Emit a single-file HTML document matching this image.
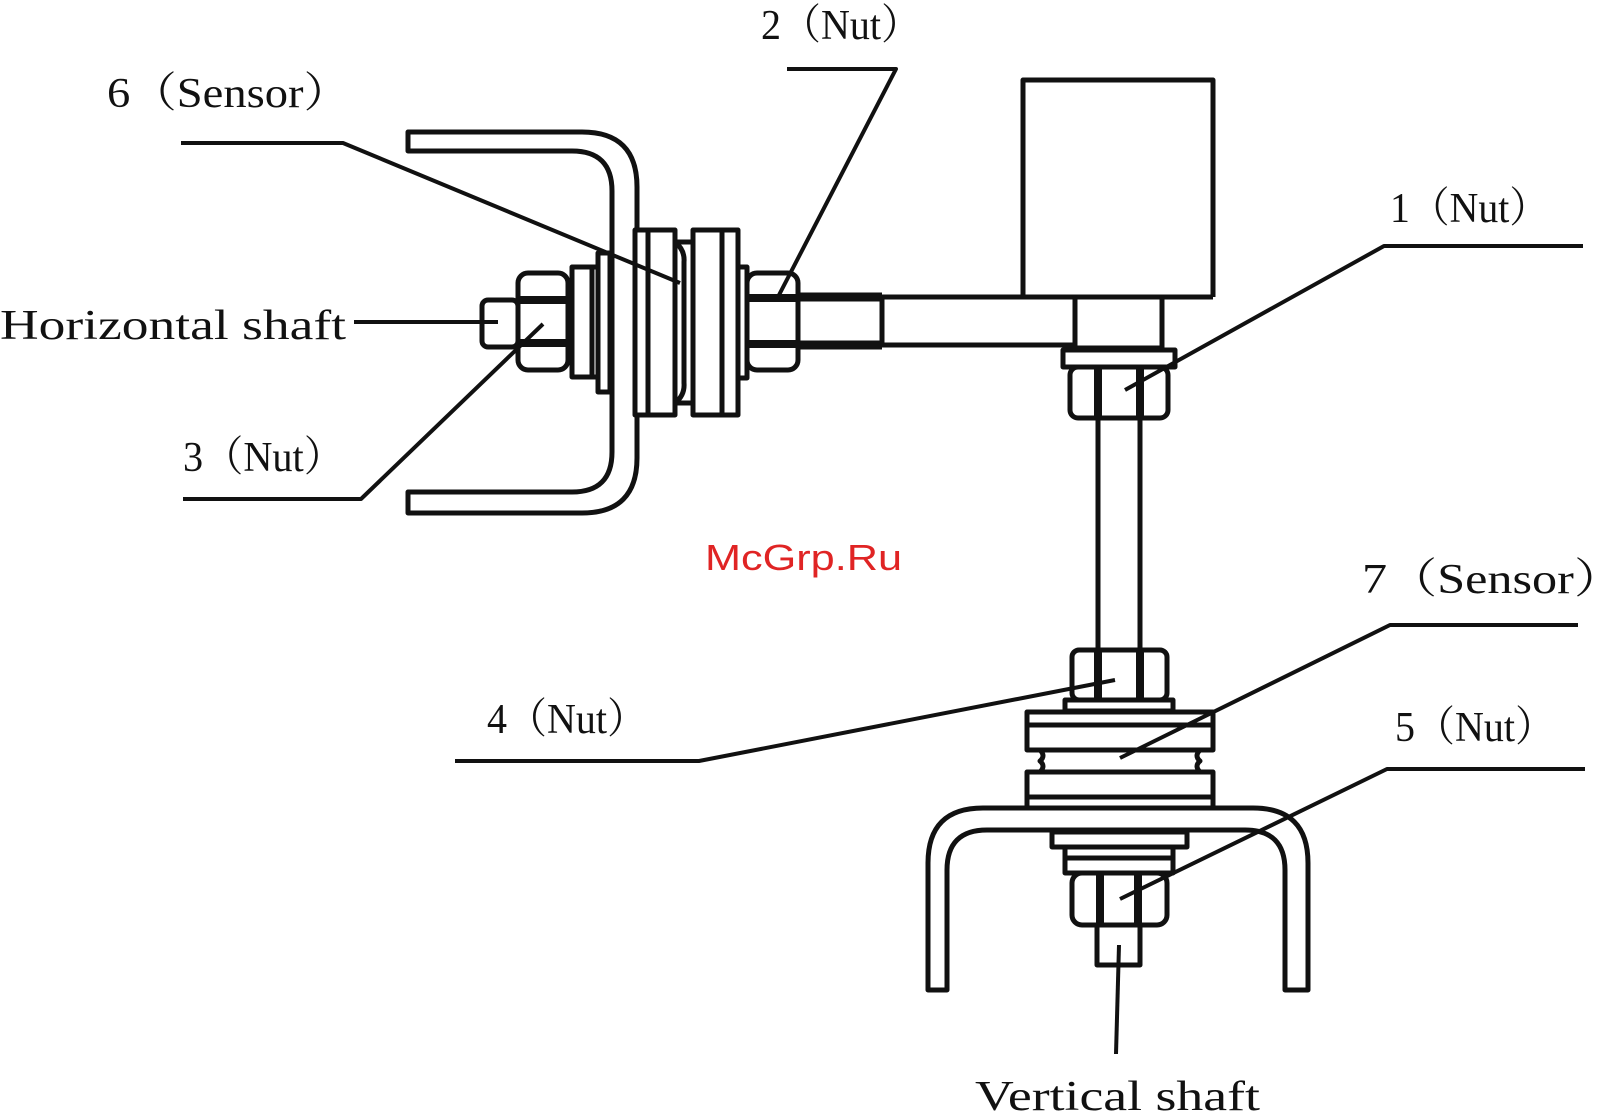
<!DOCTYPE html>
<html><head><meta charset="utf-8"><style>
html,body{margin:0;padding:0;background:#fff;overflow:hidden;}
svg{display:block;}
text{font-family:"Liberation Serif","Noto Serif CJK SC",serif;font-size:42px;fill:#111;}
</style></head><body>
<svg width="1597" height="1113" viewBox="0 0 1597 1113" xmlns="http://www.w3.org/2000/svg">
<g fill="none" stroke="#111" stroke-width="5" stroke-linejoin="round">
<path d="M408,132 L582,132 Q637,132 637,187 L637,458 Q637,513 582,513 L408,513 L408,492 L572,492 Q612,492 612,452 L612,191 Q612,151 572,151 L408,151 Z"/>
<rect x="598" y="253" width="12" height="139" fill="#fff"/>
<rect x="572" y="267" width="26" height="110" fill="#fff"/>
<line x1="592" y1="267" x2="592" y2="377"/>
<rect x="635" y="230" width="40" height="185" fill="#fff"/>
<line x1="648" y1="230" x2="648" y2="415"/>
<path d="M675,242 L693,242 M675,403 L693,403"/>
<path d="M675,242 Q685,250 684,262 L684,383 Q685,395 675,403" />
<rect x="693" y="230" width="45" height="185" fill="#fff"/>
<line x1="722" y1="230" x2="722" y2="415"/>
<rect x="738" y="267" width="9" height="111" fill="#fff"/>
<rect x="482" y="300" width="36" height="47" rx="6" fill="#fff"/>
<rect x="518" y="273" width="50" height="97" rx="10" fill="#fff"/>
<line x1="518" y1="300" x2="568" y2="300" stroke-width="8"/>
<line x1="518" y1="343" x2="568" y2="343" stroke-width="8"/>
<rect x="747" y="273" width="51" height="97" rx="10" fill="#fff"/>
<line x1="747" y1="298" x2="798" y2="298" stroke-width="8"/>
<line x1="747" y1="344" x2="798" y2="344" stroke-width="8"/>
<path d="M798,297 L882,297 M798,345 L882,345" stroke-width="9"/>
<line x1="882" y1="297" x2="882" y2="345"/>
<path d="M882,297 L1213,297 M882,345 L1075,345"/>
<path d="M1023,297 L1023,80 L1213,80 L1213,297"/>
<rect x="1075" y="297" width="87" height="51"/>
<rect x="1063" y="350" width="112" height="17"/>
<rect x="1070" y="367" width="98" height="51" rx="8"/>
<line x1="1098" y1="367" x2="1098" y2="418" stroke-width="8"/>
<line x1="1140" y1="367" x2="1140" y2="418" stroke-width="8"/>
<line x1="1098" y1="418" x2="1098" y2="650"/>
<line x1="1140" y1="418" x2="1140" y2="650"/>
<rect x="1072" y="650" width="95" height="50" rx="7"/>
<line x1="1098" y1="650" x2="1098" y2="700" stroke-width="8"/>
<line x1="1140" y1="650" x2="1140" y2="700" stroke-width="8"/>
<rect x="1065" y="700" width="108" height="11"/>
<rect x="1027" y="712" width="186" height="38"/>
<line x1="1027" y1="725" x2="1213" y2="725"/>
<path d="M1040,750 Q1046,756 1040,761 Q1046,766 1040,772 M1200,750 Q1194,756 1200,761 Q1194,766 1200,772"/>
<rect x="1027" y="772" width="186" height="36"/>
<line x1="1027" y1="797" x2="1213" y2="797"/>
<path d="M928,990 L928,863 Q928,808 983,808 L1253,808 Q1308,808 1308,863 L1308,990 L1285,990 L1285,870 Q1285,830 1245,830 L987,830 Q947,830 947,870 L947,990 Z" fill="#fff"/>
<rect x="1052" y="832" width="135" height="15" fill="#fff"/>
<rect x="1065" y="847" width="108" height="26" fill="#fff"/>
<line x1="1065" y1="858" x2="1173" y2="858"/>
<rect x="1072" y="873" width="95" height="52" rx="10" fill="#fff"/>
<line x1="1100" y1="873" x2="1100" y2="925" stroke-width="8"/>
<line x1="1138" y1="873" x2="1138" y2="925" stroke-width="8"/>
<rect x="1097" y="925" width="43" height="40" fill="#fff"/>
<g stroke-width="4">
<polyline points="181,143 343,143 680,283"/>
<polyline points="787,69 896,69 779,295"/>
<polyline points="354,322 498,322"/>
<polyline points="183,499 361,499 543,324"/>
<polyline points="1583,246 1384,246 1125,390"/>
<polyline points="1578,625 1390,625 1120,758"/>
<polyline points="455,761 699,761 1115,680"/>
<polyline points="1585,769 1387,769 1120,899"/>
<polyline points="1119,945 1116,1054"/>
</g>
</g>
<text x="107" y="107" textLength="243" lengthAdjust="spacingAndGlyphs">6（Sensor）</text>
<text x="761" y="39" textLength="160" lengthAdjust="spacingAndGlyphs">2（Nut）</text>
<text x="0" y="339" textLength="346" lengthAdjust="spacingAndGlyphs">Horizontal shaft</text>
<text x="183" y="471" textLength="161" lengthAdjust="spacingAndGlyphs">3（Nut）</text>
<text x="1390" y="222" textLength="159" lengthAdjust="spacingAndGlyphs">1（Nut）</text>
<text x="1362" y="593" textLength="262" lengthAdjust="spacingAndGlyphs">7（Sensor）</text>
<text x="487" y="733" textLength="160" lengthAdjust="spacingAndGlyphs">4（Nut）</text>
<text x="1395" y="741" textLength="160" lengthAdjust="spacingAndGlyphs">5（Nut）</text>
<text x="975" y="1110" textLength="285" lengthAdjust="spacingAndGlyphs">Vertical shaft</text>
<text x="705" y="570" style="font-family:'Liberation Sans',sans-serif;font-size:36px;fill:#e02424" textLength="197" lengthAdjust="spacingAndGlyphs">McGrp.Ru</text>
</svg>
</body></html>
